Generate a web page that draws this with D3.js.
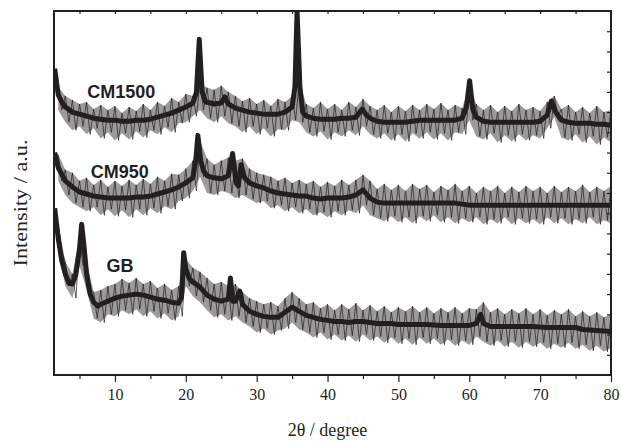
<!DOCTYPE html>
<html lang="en">
<head>
    <meta charset="UTF-8">
    <title>XRD patterns</title>
    <script src="https://d3js.org/d3.v7.min.js"></script>
    <style>
        body { margin: 0; background: #fff; }
        .axis text {
            font-family: "Liberation Serif", "Times New Roman", serif;
            font-size: 16px;
            fill: #231f20;
        }
        .axis path { display: none; }
        .axis line { stroke: #231f20; stroke-width: 1.2px; }
        .axis-title {
            font-family: "Liberation Serif", "Times New Roman", serif;
            font-size: 18px;
            fill: #231f20;
        }
        .series-label {
            font-family: "Liberation Sans", Arial, sans-serif;
            font-weight: bold;
            font-size: 18px;
            fill: #231f20;
        }
        .halo { fill: #231f20; fill-opacity: 0.45; stroke: none; }
        .spikes { fill: none; stroke: #231f20; stroke-width: 0.9px; stroke-opacity: 0.8; }
        .core { fill: none; stroke: #231f20; stroke-width: 5px; stroke-linejoin: round; }
        .frame { fill: none; stroke: #231f20; stroke-width: 2px; }
    </style>
</head>
<body>
    <svg width="621" height="443"></svg>

    <script>
        // ---- data (2theta in degree, intensity in a.u.) ----
        var seriesNames = ["CM1500", "CM950", "GB"];
        var majorTicks = [10, 20, 30, 40, 50, 60, 70, 80];
        var minorTicks = [5, 15, 25, 35, 45, 55, 65, 75];

        // centre of the trace
        var cm1500Core = [[1.5,303],[2,277],[2.5,270],[3,265],[4,260],[5,258],[6,256],[7,254],[8,253],[9,252],[10,252],[11,251],[12,251],[13,252],[14,252],[15,253],[16,255],[17,257],[18,259],[19,262],[20,265],[21,269],[21.5,280],[21.9,332],[22.3,280],[22.8,270],[23.5,269],[24,268],[25,269],[25.5,275],[26,268],[27,264],[28,262],[29,260],[30,259],[31,258],[32,258],[33,258],[34,260],[35,265],[35.4,285],[35.7,360],[36.1,285],[36.5,260],[37,256],[38,254],[39,253],[40,253],[41,253],[42,254],[43,254],[44,255],[44.9,263],[45.5,257],[46,254],[47,251],[48,250],[49,250],[50,250],[51,250],[52,251],[53,252],[54,252],[55,252],[56,252],[57,252],[58,252],[59,254],[59.6,265],[60.05,291],[60.5,263],[61,255],[62,251],[63,250],[64,250],[65,250],[66,250],[67,250],[68,250],[69,250],[70,251],[71,257],[71.6,271],[72.2,260],[73,252],[74,250],[75,249],[76,249],[77,249],[78,248],[79,248],[80,247]];
        var cm950Core = [[1.5,220],[2,205],[3,192],[4,186],[5,181],[6,179],[7,177],[8,176],[9,175],[10,175],[11,175],[12,175],[13,176],[14,176],[15,177],[16,179],[17,181],[18,183],[19,186],[20,190],[21,195],[21.4,212],[21.7,237],[22.1,212],[22.5,202],[23,197],[24,195],[25,194],[26,197],[26.6,219],[27.1,190],[27.4,187],[27.8,208],[28.3,195],[29,190],[30,187],[31,185],[32,182],[33,180],[34,179],[35,178],[36,177],[37,177],[38,175],[39,174],[40,175],[41,175],[42,175],[43,176],[44,178],[45,183],[46,175],[47,171],[48,170],[50,170],[52,170],[54,170],[56,170],[58,170],[60,168],[62,168],[64,168],[66,168],[68,168],[70,168],[72,168],[74,168],[76,168],[78,168],[80,168]];
        var gbCore = [[1.5,165],[2,135],[2.5,113],[3,100],[3.5,91],[4,90],[4.5,100],[5,125],[5.3,149],[5.6,130],[6,100],[6.5,80],[7,72],[7.6,68],[8,70],[9,73],[10,76],[11,78],[12,79],[13,80],[14,79],[15,77],[16,75],[17,74],[18,72],[19,71],[19.4,77],[19.7,121],[20,105],[20.5,95],[21,92],[22,87],[23,79],[24,75],[25,73],[26,75],[26.3,96],[26.6,73],[27,73],[27.6,83],[28,70],[29,63],[30,60],[31,58],[32,57],[33,57],[34,62],[35,67],[36,63],[37,59],[38,57],[39,55],[40,54],[41,53],[42,53],[43,52],[44,53],[45,53],[46,52],[47,51],[48,51],[49,51],[50,50],[52,50],[54,50],[56,49],[58,49],[60,49],[61,51],[61.6,60],[62,51],[63,48],[65,48],[67,48],[69,48],[71,47],[73,47],[75,47],[76,45],[78,44],[80,43]];

        // noise extremes, one value per degree from 2 to 80
        var envTheta = d3.range(2, 81);
        var cm1500Upper = [285,276,272,268,270,263,267,262,266,259,265,261,268,262,270,266,274,270,278,276,290,284,282,286,280,276,271,274,268,272,266,273,270,276,290,268,264,270,263,268,262,270,265,273,266,262,267,260,266,261,267,262,268,263,269,262,267,264,285,268,262,267,260,266,261,268,262,265,261,270,276,263,267,260,265,259,266,260,262];
        var cm1500Lower = [262,250,242,246,238,244,234,240,232,239,233,241,235,242,238,245,240,249,250,256,262,254,250,256,249,246,240,246,238,244,236,243,242,252,250,240,236,241,233,240,236,242,237,246,238,234,239,232,238,231,239,234,240,233,239,232,240,238,252,236,233,239,230,237,231,238,232,237,234,244,255,235,232,238,230,236,228,235,230];
        var cm950Upper = [218,203,200,192,195,188,193,186,192,187,193,188,194,189,196,192,199,198,204,212,232,214,208,212,215,212,214,204,200,198,196,192,195,190,193,189,192,186,191,187,193,188,193,198,192,184,189,183,188,182,189,184,188,181,187,183,189,182,187,180,186,182,187,180,186,181,187,182,186,180,187,181,186,182,188,181,186,182,187];
        var cm950Lower = [192,178,170,166,162,166,158,164,157,163,156,164,158,165,160,167,164,172,175,182,196,180,178,182,180,175,178,174,170,172,165,168,162,166,160,164,158,161,156,162,158,163,160,168,158,155,152,157,151,156,150,157,152,158,151,156,150,155,151,156,149,154,150,156,149,155,150,154,149,156,150,155,149,154,150,156,149,153,150];
        var gbUpper = [150,112,100,135,112,82,84,88,90,95,91,96,90,93,86,90,84,88,115,106,102,96,90,92,88,90,82,76,73,70,72,68,76,82,76,70,72,66,70,64,70,65,71,64,69,63,68,62,67,63,68,62,67,61,66,62,67,61,66,65,72,62,66,60,65,61,66,60,65,59,64,60,65,58,63,58,62,57,60];
        var gbLower = [122,88,76,108,84,56,52,60,58,64,60,65,58,63,56,61,54,58,88,78,72,64,57,60,54,58,52,48,42,46,40,44,46,52,45,42,37,42,35,40,34,39,33,40,34,38,32,37,31,36,30,37,31,36,30,35,29,34,30,38,33,29,34,28,33,27,33,28,32,26,31,27,32,26,30,24,29,23,27];

        var labelTheta = [6.1, 6.6, 8.8];
        var labelValue = [274, 195, 102];

        // ---- layout ----
        var margin = { top: 11, right: 10, bottom: 68, left: 54 },
            width = 621 - margin.left - margin.right,
            height = 443 - margin.top - margin.bottom;

        var svg = d3.select("svg")
            .append("g")
            .attr("transform", "translate(" + margin.left + "," + margin.top + ")");

        var x = d3.scaleLinear().domain([1.4, 80]).range([0, width]);
        var y = d3.scaleLinear().domain([0, 360]).range([height, 0]);

        svg.append("clipPath").attr("id", "plot-clip")
            .append("rect").attr("width", width).attr("height", height);

        var plot = svg.append("g").attr("clip-path", "url(#plot-clip)");

        var series = [
            { name: seriesNames[0], core: cm1500Core, upper: cm1500Upper, lower: cm1500Lower },
            { name: seriesNames[1], core: cm950Core, upper: cm950Upper, lower: cm950Lower },
            { name: seriesNames[2], core: gbCore, upper: gbUpper, lower: gbLower }
        ];

        var line = d3.line()
            .x(function(d) { return x(d[0]); })
            .y(function(d) { return y(d[1]); });

        var halo = d3.area()
            .x(function(d) { return x(d.t); })
            .y0(function(d) { return y(d.lo); })
            .y1(function(d) { return y(d.hi); });

        series.forEach(function(s) {
            var env = envTheta.map(function(t, i) { return { t: t, lo: s.lower[i], hi: s.upper[i] }; });
            // zig-zag between the noise extremes
            var zig = [];
            envTheta.forEach(function(t, i) {
                zig.push([t, s.upper[i]]);
                zig.push([t + 0.5, s.lower[i]]);
            });

            plot.append("path").datum(env).attr("class", "halo").attr("d", halo);
            plot.append("path").datum(zig).attr("class", "spikes").attr("d", line);
            plot.append("path").datum(s.core).attr("class", "core").attr("d", line);
        });

        // series labels
        series.forEach(function(s, i) {
            svg.append("text")
                .attr("class", "series-label")
                .attr("x", x(labelTheta[i]))
                .attr("y", y(labelValue[i]))
                .text(s.name);
        });

        // ---- axes ----
        svg.append("g")
            .attr("class", "axis")
            .attr("transform", "translate(0," + height + ")")
            .call(d3.axisBottom(x).tickValues(majorTicks).tickSize(7).tickPadding(7).tickSizeOuter(0));

        svg.append("g")
            .attr("class", "axis")
            .attr("transform", "translate(0," + height + ")")
            .call(d3.axisBottom(x).tickValues(minorTicks).tickSize(4).tickFormat("").tickSizeOuter(0));

        svg.append("g")
            .attr("class", "axis")
            .call(d3.axisTop(x).tickValues(minorTicks.concat(majorTicks)).tickSize(-3).tickFormat("").tickSizeOuter(0));

        svg.append("g")
            .attr("class", "axis")
            .attr("transform", "translate(" + width + ",0)")
            .call(d3.axisRight(y).tickValues(d3.range(20, 360, 20)).tickSize(-4).tickFormat("").tickSizeOuter(0));

        svg.append("rect")
            .attr("class", "frame")
            .attr("width", width)
            .attr("height", height);

        svg.append("text")
            .attr("class", "axis-title")
            .attr("x", width / 2 - 5)
            .attr("y", height + 61)
            .attr("text-anchor", "middle")
            .text("2θ / degree");

        svg.append("text")
            .attr("class", "axis-title")
            .attr("transform", "rotate(-90)")
            .attr("x", -(203 - margin.top))
            .attr("y", 27 - margin.left)
            .attr("text-anchor", "middle")
            .attr("textLength", 127)
            .attr("lengthAdjust", "spacingAndGlyphs")
            .text("Intensity / a.u.");
    </script>
</body>
</html>
